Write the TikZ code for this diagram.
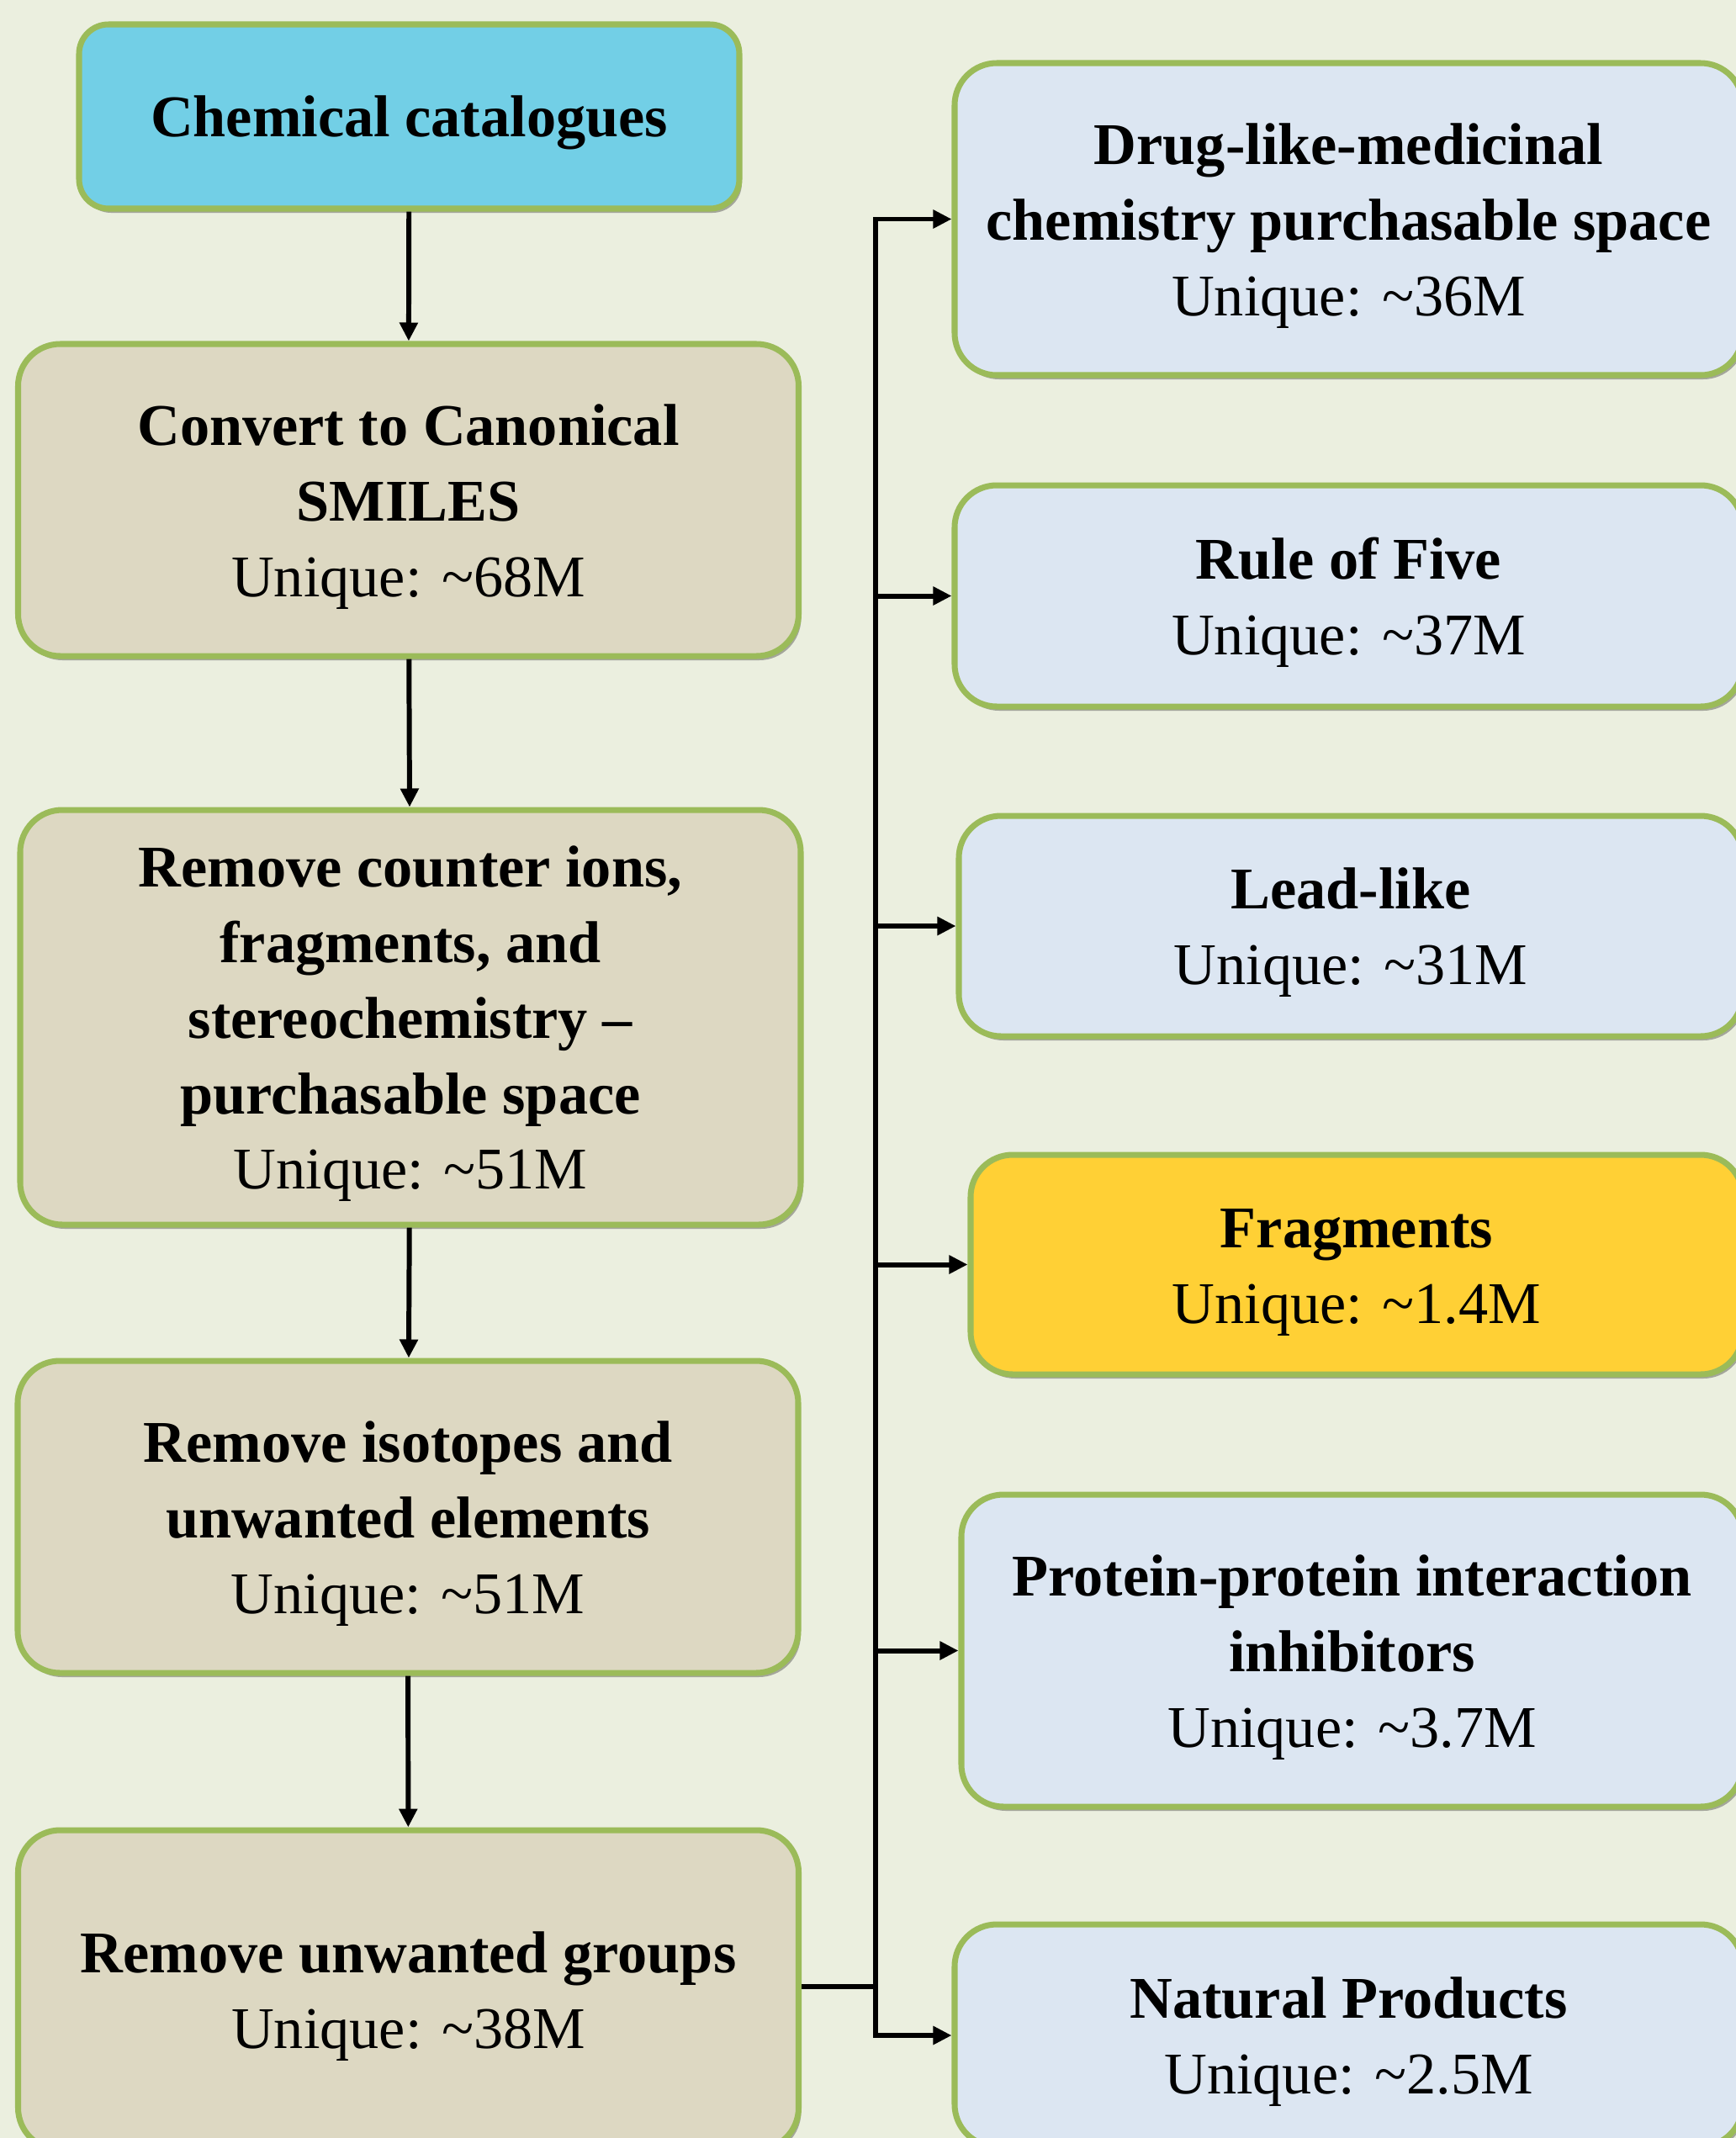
\documentclass[tikz,border=0pt]{standalone}
\usepackage{fontspec}
\setmainfont{Liberation Serif}
\usetikzlibrary{arrows.meta,shadows}
\definecolor{Canvas}{HTML}{EBEFDF}
\definecolor{Leaf}{HTML}{9BBB59}
\definecolor{Sky}{HTML}{72CFE6}
\definecolor{Sand}{HTML}{DDD8C2}
\definecolor{Mist}{HTML}{DCE6F2}
\definecolor{Gold}{HTML}{FFD035}
\newcommand{\topstrut}{\rule{0pt}{0.64cm}}

\begin{document}
\begin{tikzpicture}[
  every node/.style={font=\fontsize{20}{25.6}\selectfont},
  box/.style={draw=Leaf, line width=2pt, rounded corners=0.5cm, align=center,
    drop shadow={shadow xshift=0.03cm, shadow yshift=-0.05cm, opacity=0.3, fill=black}},
  stepbox/.style={box, fill=Sand, minimum width=9.28cm},
  setbox/.style={box, fill=Mist},
  link/.style={line width=1.7pt, -{Triangle[length=0.22cm,width=0.21cm]}}]
\useasboundingbox[fill=Canvas] (0,0) rectangle (20.64,-25.42);

% pipeline
\node[box, fill=Sky, rounded corners=0.35cm, minimum width=7.85cm, minimum height=2.19cm] (cat) at (4.865,-1.385) {\topstrut\textbf{Chemical catalogues}};
\node[stepbox, minimum height=3.71cm] (conv) at (4.855,-5.945) {\topstrut\textbf{Convert to Canonical}\\\textbf{SMILES}\\Unique: \textasciitilde68M};
\node[stepbox, minimum height=4.93cm] (ions) at (4.88,-12.095) {\topstrut\textbf{Remove counter ions,}\\\textbf{fragments, and}\\\textbf{stereochemistry –}\\\textbf{purchasable space}\\Unique: \textasciitilde51M};
\node[stepbox, minimum height=3.71cm] (iso) at (4.85,-18.035) {\topstrut\textbf{Remove isotopes and}\\\textbf{unwanted elements}\\Unique: \textasciitilde51M};
\node[stepbox, minimum height=3.8cm] (grp) at (4.855,-23.66) {\topstrut\textbf{Remove unwanted groups}\\Unique: \textasciitilde38M};

% subsets
\node[setbox, minimum width=9.37cm, minimum height=3.71cm] (drug) at (16.035,-2.605) {\topstrut\textbf{Drug-like-medicinal}\\\textbf{chemistry purchasable space}\\Unique: \textasciitilde36M};
\node[setbox, minimum width=9.37cm, minimum height=2.63cm] (ro5) at (16.035,-7.085) {\topstrut\textbf{Rule of Five}\\Unique: \textasciitilde37M};
\node[setbox, minimum width=9.32cm, minimum height=2.62cm] (lead) at (16.06,-11.01) {\topstrut\textbf{Lead-like}\\Unique: \textasciitilde31M};
\node[box, fill=Gold, minimum width=9.18cm, minimum height=2.61cm] (frag) at (16.13,-15.035) {\topstrut\textbf{Fragments}\\Unique: \textasciitilde1.4M};
\node[setbox, minimum width=9.29cm, minimum height=3.71cm] (ppi) at (16.075,-19.625) {\topstrut\textbf{Protein-protein interaction}\\\textbf{inhibitors}\\Unique: \textasciitilde3.7M};
\node[setbox, minimum width=9.37cm, minimum height=2.64cm] (np) at (16.035,-24.2) {\topstrut\textbf{Natural Products}\\Unique: \textasciitilde2.5M};

\foreach \x/\y in {cat/conv,conv/ions,ions/iso,iso/grp}{\draw[link] (\x) -- (\y);}
\coordinate (join) at (10.41,-23.62);
\draw[line width=1.7pt] (grp.east |- join) -- (join);
\foreach \y in {drug,ro5,lead,frag,ppi,np}{\draw[link] (join) |- (\y);}
\end{tikzpicture}
\end{document}
